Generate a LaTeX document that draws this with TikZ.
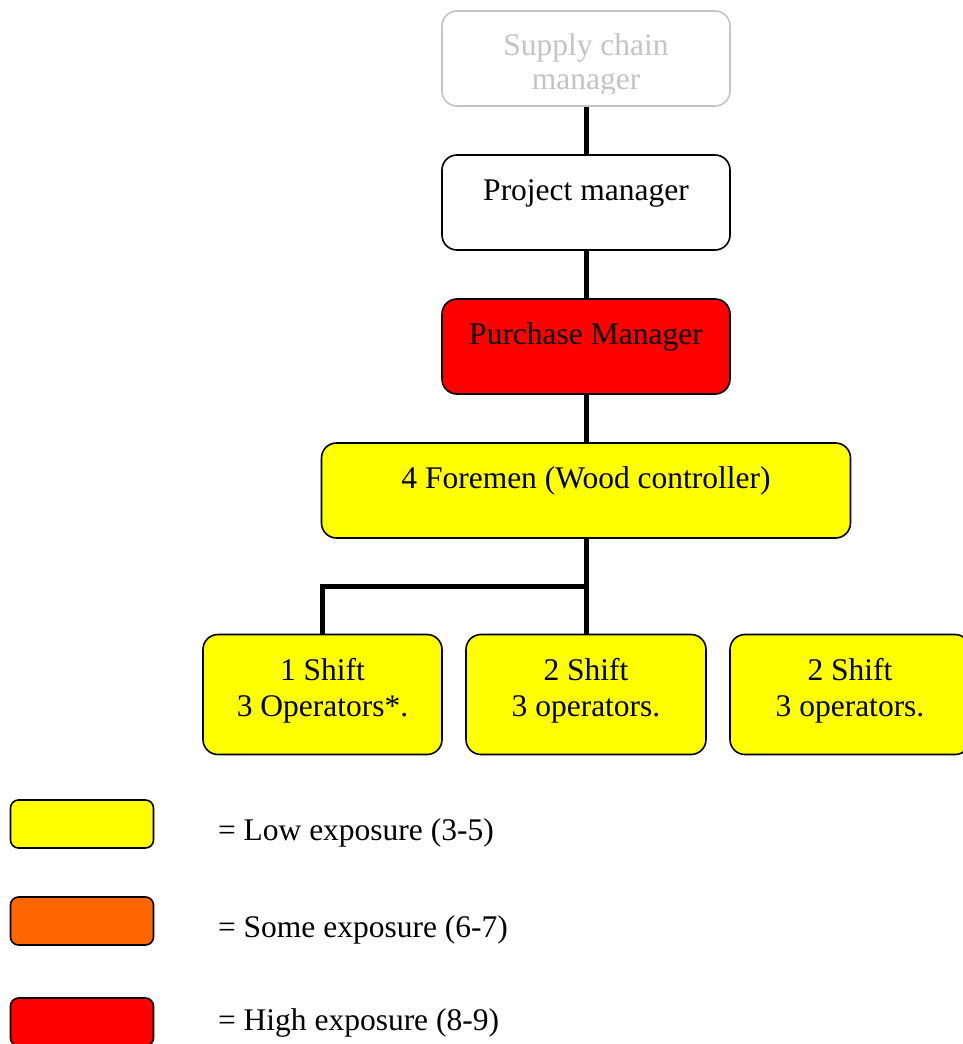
\documentclass[tikz,border=0pt]{standalone}
\usepackage{fontspec}
\setmainfont{Liberation Serif}
\usetikzlibrary{backgrounds}
\begin{document}
\begin{tikzpicture}[x=1pt,y=-1pt,
  every node/.style={inner sep=0pt, outer sep=0pt},
  orgbox/.style={draw=black, line width=1.6pt, rounded corners=15pt},
  keybox/.style={draw=black, line width=1.6pt, rounded corners=8pt,
                 minimum width=143pt, minimum height=48pt},
  label/.style={anchor=base, font=\fontsize{31.5}{37}\selectfont},
  link/.style={line width=5pt, line join=miter}]
\useasboundingbox (0,0) rectangle (962,1044);
\definecolor{lowc}{HTML}{FFFF00}
\definecolor{somec}{HTML}{FF6600}
\definecolor{highc}{HTML}{FF0000}
\definecolor{fadec}{HTML}{C4C4C4}

% boxes of the chart
\node[orgbox, draw=fadec, fill=white, minimum width=288pt, minimum height=95pt] (scm) at (586,58.5) {};
\node[orgbox, fill=white, minimum width=288pt, minimum height=95pt] (pm) at (586,202.5) {};
\node[orgbox, fill=highc, minimum width=288pt, minimum height=95pt] (pur) at (586,346.5) {};
\node[orgbox, fill=lowc, minimum width=529pt, minimum height=95pt] (fore) at (586,490.5) {};
\node[orgbox, fill=lowc, minimum width=239pt, minimum height=120pt] (s1) at (322.5,694.5) {};
\node[orgbox, fill=lowc, minimum width=240pt, minimum height=120pt] (s2) at (586,694.5) {};
\node[orgbox, fill=lowc, minimum width=240pt, minimum height=120pt] (s3) at (850,694.5) {};

% reporting lines
\coordinate (j) at (586,586);
\begin{scope}[on background layer]
  \draw[link] (scm.south) -- (pm.north);
  \draw[link] (pm.south) -- (pur.north);
  \draw[link] (pur.south) -- (fore.north);
  \draw[link] (fore.south) -- (s2.north);
  \draw[link] (j) -| (s1.north);
\end{scope}

% texts, set on their lines from the top of each box
\begin{scope}
  \clip (442,0) rectangle (730,93);
  \node[label, text=fadec] (scmA) at (586,55) {Supply chain};
  \node[label, text=fadec] (scmB) at (586,89) {manager};
\end{scope}
\node[label] (pmT) at (586,200) {Project manager};
\node[label] (purT) at (586,344) {Purchase Manager};
\node[label] (foreT) at (586,488) {4 Foremen (Wood controller)};
\node[label] (s1A) at (322.5,680) {1 Shift};
\node[label] (s1B) at (322.5,716) {3 Operators*.};
\node[label] (s2A) at (586,680) {2 Shift};
\node[label] (s2B) at (586,716) {3 operators.};
\node[label] (s3A) at (850,680) {2 Shift};
\node[label] (s3B) at (850,716) {3 operators.};

% key
\node[keybox, fill=lowc] (k1) at (82,824) {};
\node[keybox, fill=somec] (k2) at (82,921) {};
\node[keybox, fill=highc] (k3) at (82,1022) {};
\node[label, anchor=base west] (k1T) at (218,840) {= Low exposure (3-5)};
\node[label, anchor=base west] (k2T) at (218,937) {= Some exposure (6-7)};
\node[label, anchor=base west] (k3T) at (218,1030) {= High exposure (8-9)};
\end{tikzpicture}
\end{document}
